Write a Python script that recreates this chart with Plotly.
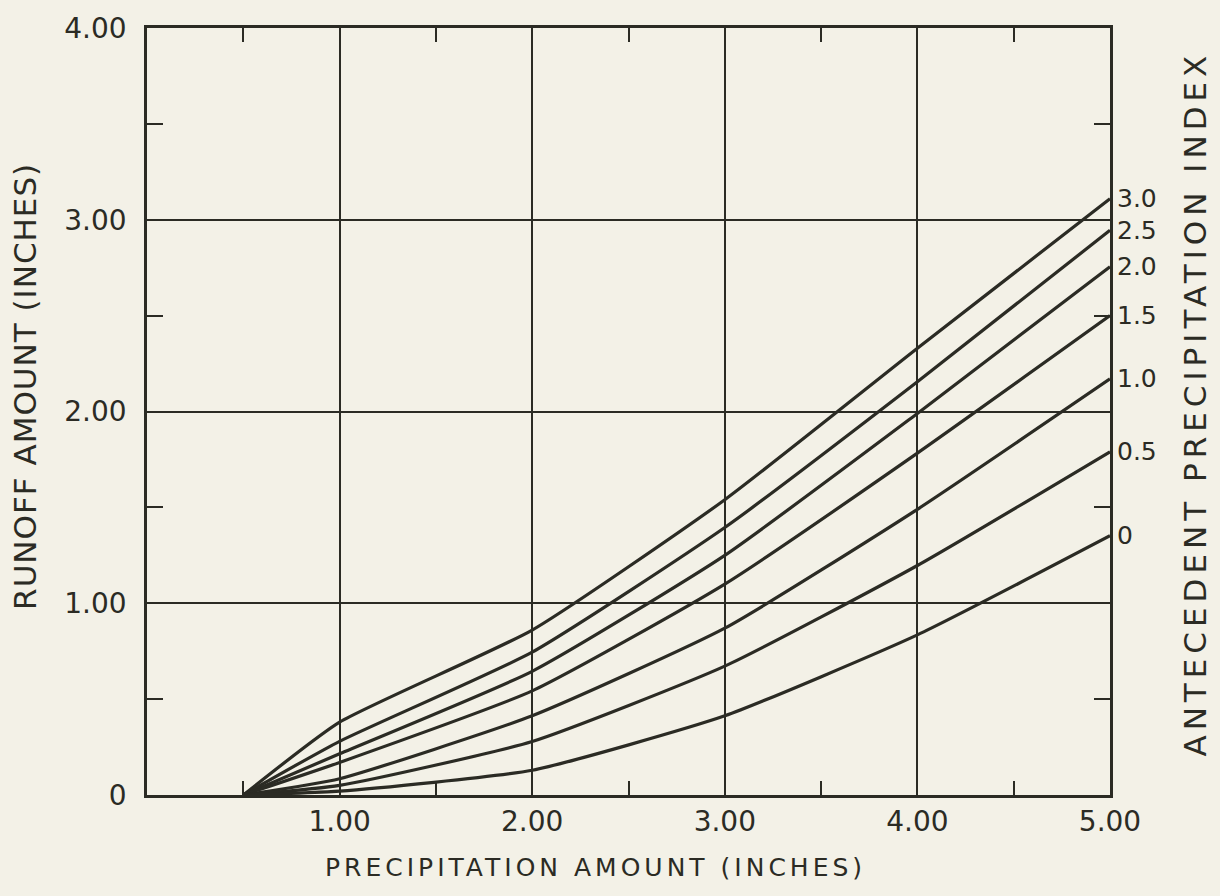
import plotly.graph_objects as go

# Precipitation amount (inches) at which readings were taken
precip = [0.5, 1.0, 2.0, 3.0, 4.0, 5.0]

# Runoff amount (inches) for each antecedent precipitation index
api_labels = ["3.0", "2.5", "2.0", "1.5", "1.0", "0.5", "0"]
runoff_api_30 = [0.0, 0.38, 0.86, 1.54, 2.33, 3.11]
runoff_api_25 = [0.0, 0.28, 0.745, 1.395, 2.155, 2.945]
runoff_api_20 = [0.0, 0.215, 0.645, 1.25, 1.99, 2.755]
runoff_api_15 = [0.0, 0.17, 0.543, 1.10, 1.783, 2.50]
runoff_api_10 = [0.0, 0.085, 0.413, 0.87, 1.49, 2.17]
runoff_api_05 = [0.0, 0.05, 0.279, 0.672, 1.197, 1.79]
runoff_api_00 = [0.0, 0.02, 0.129, 0.413, 0.835, 1.352]

series = [runoff_api_30, runoff_api_25, runoff_api_20, runoff_api_15,
          runoff_api_10, runoff_api_05, runoff_api_00]

x_tickvals = [1, 2, 3, 4, 5]
x_ticktext = ["1.00", "2.00", "3.00", "4.00", "5.00"]
y_tickvals = [0, 1, 2, 3, 4]
y_ticktext = ["0", "1.00", "2.00", "3.00", "4.00"]
x_minor = [0.5, 1.5, 2.5, 3.5, 4.5]
y_minor = [0.5, 1.5, 2.5, 3.5]

INK = "#2b2b24"
PAPER = "#f3f1e7"
FONT = "DejaVu Sans"

fig = go.Figure()
for lab, ys in zip(api_labels, series):
    fig.add_trace(go.Scatter(
        x=precip, y=ys, mode="lines", name=lab,
        line=dict(color=INK, width=3.2, shape="spline", smoothing=0.5),
        showlegend=False, hoverinfo="skip"))
    fig.add_annotation(x=precip[-1], y=ys[-1], text=lab, showarrow=False,
                       xanchor="left", yanchor="middle", xshift=5,
                       font=dict(family=FONT, size=25, color=INK))

axis_common = dict(
    showline=True, linecolor=INK, linewidth=2.5, mirror="ticks",
    showgrid=True, gridcolor=INK, gridwidth=2, zeroline=False,
    ticks="", tickfont=dict(family=FONT, size=28, color=INK),
)

fig.update_xaxes(
    range=[0, 5], tickmode="array", tickvals=x_tickvals, ticktext=x_ticktext,
    ticklabelstandoff=0,
    minor=dict(tickvals=x_minor, ticks="inside", ticklen=14, tickwidth=2,
               tickcolor=INK, showgrid=False),
    **axis_common)
fig.update_yaxes(
    range=[0, 4], tickmode="array", tickvals=y_tickvals, ticktext=y_ticktext,
    ticklabelstandoff=12,
    minor=dict(tickvals=y_minor, ticks="inside", ticklen=16, tickwidth=2,
               tickcolor=INK, showgrid=False),
    **axis_common)

# Axis titles
fig.add_annotation(xref="paper", yref="paper", x=0.466, y=-0.094,
                   text='<span style="letter-spacing:4px">PRECIPITATION AMOUNT (INCHES)</span>',
                   showarrow=False, xanchor="center", yanchor="middle",
                   font=dict(family=FONT, size=25, color=INK))
fig.add_annotation(xref="paper", yref="paper", x=-0.127, y=0.533,
                   text='<span style="letter-spacing:1px">RUNOFF AMOUNT (INCHES)</span>',
                   showarrow=False, textangle=-90, xanchor="center", yanchor="middle",
                   font=dict(family=FONT, size=31, color=INK))
fig.add_annotation(xref="paper", yref="paper", x=1.088, y=0.51,
                   text='<span style="letter-spacing:5px">ANTECEDENT PRECIPITATION INDEX</span>',
                   showarrow=False, textangle=-90, xanchor="center", yanchor="middle",
                   font=dict(family=FONT, size=31, color=INK))

fig.update_layout(
    width=1220, height=896,
    margin=dict(l=147, r=110, t=22, b=101),
    paper_bgcolor=PAPER, plot_bgcolor=PAPER,
)

fig.write_html(
    "out.html",
    config={"displayModeBar": False},
    post_script="document.body.style.margin='0';document.body.style.background='%s';" % PAPER,
)
